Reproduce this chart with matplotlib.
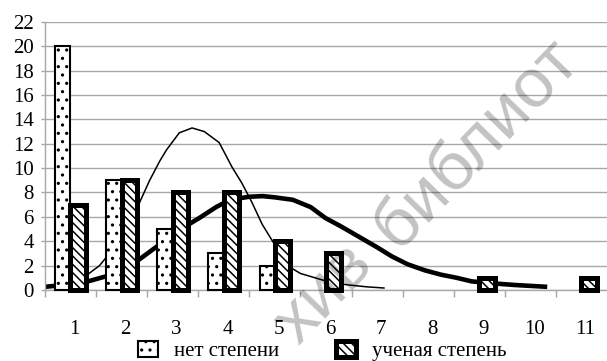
import matplotlib.pyplot as plt
import matplotlib.transforms as mtransforms
from matplotlib.patches import Patch
from matplotlib.ticker import FixedLocator, MultipleLocator

# Распределение по числу публикаций (категории 1..11)
categories = list(range(1, 12))
no_degree = [20, 9, 5, 3, 2, 0, 0, 0, 0, 0, 0]
with_degree = [7, 9, 8, 8, 4, 3, 0, 0, 1, 0, 1]

# Сглаженные кривые распределений (точки)
thin_x = [1.0, 1.3, 1.57, 1.86, 2.1, 2.29, 2.55, 2.75, 2.88, 3.13, 3.38, 3.62,
          3.91, 4.16, 4.35, 4.55, 4.75, 4.94, 5.1, 5.28, 5.5, 5.86, 6.11, 6.45, 6.8, 7.15]
thin_y = [0.7, 1.15, 2.0, 3.5, 5.0, 6.6, 9.0, 10.6, 11.5, 12.9, 13.3, 13.0,
          12.1, 10.1, 8.8, 7.2, 5.4, 4.1, 3.0, 1.9, 1.35, 0.9, 0.6, 0.4, 0.25, 0.15]
thick_x = [0.5, 0.99, 1.3, 1.77, 2.25, 2.67, 3.2, 3.52, 3.85, 4.12, 4.5, 4.76,
           5.0, 5.35, 5.7, 5.99, 6.3, 6.65, 7.0, 7.29, 7.6, 7.94, 8.25, 8.55, 8.85,
           9.22, 9.7, 10.33]
thick_y = [0.25, 0.45, 0.65, 1.2, 2.2, 3.5, 5.1, 5.9, 6.8, 7.4, 7.65, 7.7,
           7.6, 7.4, 6.8, 5.9, 5.2, 4.35, 3.5, 2.75, 2.1, 1.6, 1.25, 1.0, 0.7,
           0.55, 0.4, 0.25]

plt.rcParams['font.family'] = ['Liberation Serif', 'DejaVu Serif']
plt.rcParams['hatch.linewidth'] = 1.1

fig = plt.figure(figsize=(6.07, 3.61), dpi=100)
ax = fig.add_axes([0.074, 0.197, 0.926, 0.742])

grid_color = '#a8a8a8'
bar_w = 0.3

# кривые под столбцами
ax.plot(thin_x, thin_y, color='black', lw=1.1, zorder=2, solid_capstyle='butt')
ax.plot(thick_x, thick_y, color='black', lw=3.3, zorder=2, solid_capstyle='butt')

for c, v in zip(categories, no_degree):
    if v > 0:
        ax.bar(c - bar_w / 2, v, width=bar_w, facecolor='white', edgecolor='black',
               hatch='..', linewidth=1.5, zorder=3, clip_on=False)
for c, v in zip(categories, with_degree):
    if v > 0:
        ax.bar(c + bar_w / 2, v, width=bar_w, facecolor='white', edgecolor='black',
               hatch='\\\\\\\\', linewidth=3.6, zorder=4, clip_on=False)

ax.set_xlim(0.5, 11.5)
ax.set_ylim(0, 22)
ax.yaxis.set_major_locator(MultipleLocator(2))
ax.grid(axis='y', color=grid_color, lw=1.0, zorder=0)
ax.set_axisbelow(True)

ax.xaxis.set_major_locator(FixedLocator(categories))
ax.xaxis.set_minor_locator(FixedLocator([c + 0.5 for c in range(0, 11)]))
ax.tick_params(axis='x', which='major', length=0, pad=22, labelsize=15)
ax.tick_params(axis='x', which='minor', length=5, width=1.0, color=grid_color)
ax.tick_params(axis='y', length=3, width=1.0, color=grid_color, pad=5, labelsize=15)

# подписи категорий чуть правее центра группы
shift = mtransforms.ScaledTranslation(4 / 100, 0, fig.dpi_scale_trans)
for lbl in ax.get_xticklabels():
    lbl.set_transform(lbl.get_transform() + shift)

for side in ('top', 'right'):
    ax.spines[side].set_visible(False)
for side in ('left', 'bottom'):
    ax.spines[side].set_color(grid_color)
    ax.spines[side].set_linewidth(1.0)

handles = [
    Patch(facecolor='white', edgecolor='black', hatch='..', linewidth=1.5),
    Patch(facecolor='white', edgecolor='black', hatch='\\\\\\\\', linewidth=3.6),
]
fig.legend(handles, ['нет степени', 'ученая степень'], loc='center left',
           bbox_to_anchor=(0.228, 0.028), ncol=2, frameon=False, fontsize=15,
           handlelength=0.95, handleheight=0.8, handletextpad=0.75,
           columnspacing=2.75, borderpad=0, borderaxespad=0)

# водяной знак (два слова по одной наклонной линии)
wm = dict(fontsize=50, family='Liberation Sans', color='black', alpha=0.24,
          rotation=46, rotation_mode='anchor', ha='left', va='baseline', zorder=10)
fig.text(0.492, 0.042, 'хив', **wm)
fig.text(0.655, 0.307, 'библиот', **wm)

fig.savefig('out.png', dpi=100)
